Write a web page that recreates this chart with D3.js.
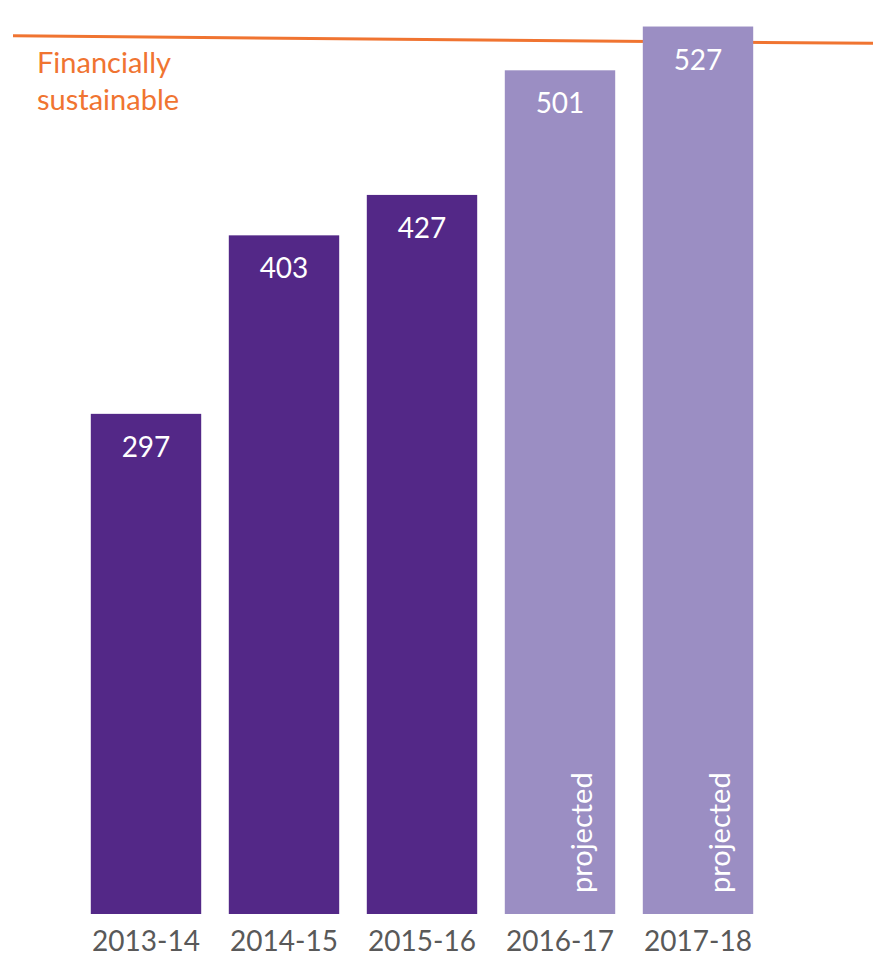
<!DOCTYPE html>
<html>
<head>
<meta charset="utf-8">
<script src="https://cdn.jsdelivr.net/npm/d3@7"></script>
<style>
  body { margin: 0; background: #fff; }
  svg { display: block; font-family: Lato, "Open Sans", sans-serif; }
</style>
</head>
<body>
<div id="chart"></div>
<script>
const years = ['2013-14', '2014-15', '2015-16', '2016-17', '2017-18']
const values = [297, 403, 427, 501, 527]
const projected = [false, false, false, true, true]
// sustainable threshold, read at left and right ends of the line
const sustainableLine = [521.5, 517]
const sustainableLabel = ['Financially', 'sustainable']

const width = 873
const height = 960
const baseline = 914

const svg = d3.select('#chart').append('svg')
    .attr('width', width)
    .attr('height', height)

const xScale = d3.scaleBand()
    .domain(years)
    .range([77, 767])
    .paddingInner(0.2)
    .paddingOuter(0.1)

const yScale = d3.scaleLinear()
    .domain([0, 538])
    .range([baseline, 8])

const data = years.map((y, i) => ({year: y, value: values[i], projected: projected[i]}))

// threshold line, drawn first so the bars sit on top of it
const lineX = d3.scaleLinear().domain([0, 1]).range([13, width])
svg.append('path')
    .attr('d', d3.line()
        .x((d, i) => lineX(i))
        .y(d => yScale(d))(sustainableLine))
    .attr('fill', 'none')
    .attr('stroke', '#F07431')
    .attr('stroke-width', 3)

svg.append('g').selectAll('text')
    .data(sustainableLabel)
    .join('text')
    .attr('x', 37)
    .attr('y', (_, i) => 73 + 37 * i)
    .attr('fill', '#F07431')
    .attr('font-size', 29)
    .text(d => d)

const barG = svg.append('g')
    .selectAll('g')
    .data(data)
    .join('g')

barG.append('rect')
    .attr('x', d => xScale(d.year))
    .attr('y', d => yScale(d.value))
    .attr('width', xScale.bandwidth())
    .attr('height', d => baseline - yScale(d.value))
    .attr('fill', d => d.projected ? '#9B8EC3' : '#532887')

barG.append('text')
    .attr('x', d => xScale(d.year) + xScale.bandwidth() / 2)
    .attr('y', d => yScale(d.value) + 43)
    .attr('text-anchor', 'middle')
    .attr('fill', '#fff')
    .attr('font-size', 28)
    .text(d => d.value)

barG.filter(d => d.projected).append('text')
    .attr('transform', d => `translate(${xScale(d.year) + xScale.bandwidth() - 23},${baseline - 21}) rotate(-90)`)
    .attr('fill', '#fff')
    .attr('font-size', 29)
    .text('projected')

// category labels
svg.append('g').selectAll('text')
    .data(years)
    .join('text')
    .attr('x', d => xScale(d) + xScale.bandwidth() / 2)
    .attr('y', 951)
    .attr('text-anchor', 'middle')
    .attr('fill', '#595959')
    .attr('font-size', 28)
    .text(d => d)
</script>
</body>
</html>
